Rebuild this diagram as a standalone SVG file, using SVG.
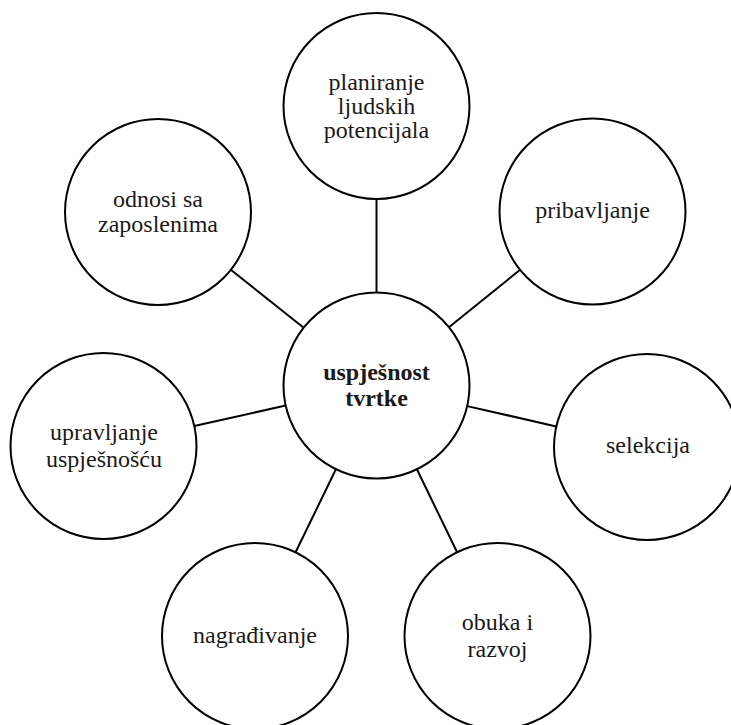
<svg xmlns="http://www.w3.org/2000/svg" width="731" height="725" viewBox="0 0 731 725">
<style>
.n{fill:#fff;stroke:#000;stroke-width:2}
.c{stroke:#000;stroke-width:2;fill:none}
text{font-family:'Liberation Serif','Times New Roman',Times,serif;font-size:24px;fill:#1a1a1a;text-anchor:middle}
.b{font-weight:bold}
</style>
<rect width="731" height="725" fill="#fff"/>
<g id="connectors">
<line class="c" x1="376.5" y1="292.5" x2="376.5" y2="199"/>
<line class="c" x1="448.9" y1="327.2" x2="520.1" y2="269.8"/>
<line class="c" x1="467.2" y1="406.1" x2="556.3" y2="426.4"/>
<line class="c" x1="416.9" y1="469.2" x2="457.1" y2="552.3"/>
<line class="c" x1="335.9" y1="469.2" x2="295.6" y2="552.3"/>
<line class="c" x1="285.7" y1="405.6" x2="194.3" y2="425.9"/>
<line class="c" x1="303.7" y1="327.7" x2="230.8" y2="269.8"/>
</g>
<g id="center">
<circle class="n" cx="376.5" cy="385.5" r="93"/>
<text class="b" x="376.5" y="380">uspješnost</text>
<text class="b" x="376.5" y="406">tvrtke</text>
</g>
<g id="planiranje">
<circle class="n" cx="376.5" cy="106" r="93"/>
<text x="376.5" y="90">planiranje</text>
<text x="376.5" y="114">ljudskih</text>
<text x="376.5" y="138">potencijala</text>
</g>
<g id="pribavljanje">
<circle class="n" cx="592.5" cy="211.5" r="93"/>
<text x="592.5" y="218">pribavljanje</text>
</g>
<g id="selekcija">
<circle class="n" cx="647" cy="447" r="93"/>
<text x="648" y="453">selekcija</text>
</g>
<g id="obuka">
<circle class="n" cx="497.5" cy="636" r="93"/>
<text x="497.5" y="630">obuka i</text>
<text x="497.5" y="657">razvoj</text>
</g>
<g id="nagradivanje">
<circle class="n" cx="255" cy="636" r="93"/>
<text x="255" y="643">nagrađivanje</text>
</g>
<g id="upravljanje">
<circle class="n" cx="103.5" cy="446" r="93"/>
<text x="104" y="440">upravljanje</text>
<text x="104" y="467">uspješnošću</text>
</g>
<g id="odnosi">
<circle class="n" cx="158" cy="212" r="93"/>
<text x="158" y="207">odnosi sa</text>
<text x="158" y="232">zaposlenima</text>
</g>
</svg>
